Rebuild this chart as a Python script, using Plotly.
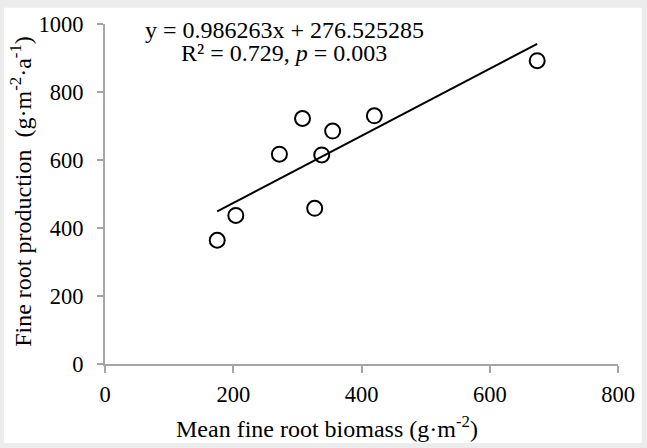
import plotly.graph_objects as go

# Data
biomass = [175, 204, 272, 308, 327, 338, 355, 420, 674]
production = [364, 437, 617, 722, 458, 615, 685, 730, 892]
slope = 0.986263
intercept = 276.525285
x_ticks = [0, 200, 400, 600, 800]
y_ticks = [0, 200, 400, 600, 800, 1000]

W, H = 647, 448
L, R, T, B = 105, 19.3, 21.3, 83.7
pw, ph = W - L - R, H - T - B

def px(x):
    return (x - L) / pw

def py(y):
    return (H - B - y) / ph

FONT = "Liberation Serif"
AXC = "#a6a6a6"

line_x = [min(biomass), max(biomass)]
line_y = [slope * v + intercept for v in line_x]

fig = go.Figure()
fig.add_trace(go.Scatter(x=line_x, y=line_y, mode="lines",
                         line=dict(color="black", width=2), showlegend=False))
fig.add_trace(go.Scatter(x=biomass, y=production, mode="markers",
                         marker=dict(symbol="circle-open", size=15, color="black",
                                     line=dict(width=2, color="black")),
                         showlegend=False))

fig.update_layout(
    width=W, height=H,
    margin=dict(l=L, r=R, t=T, b=B, pad=0),
    paper_bgcolor="#ececec",
    plot_bgcolor="white",
    font=dict(family=FONT, size=24, color="black"),
    xaxis=dict(range=[0, 800], tickvals=x_ticks, showgrid=False, zeroline=False,
               showline=True, linecolor=AXC, linewidth=2, ticks="outside",
               ticklen=7, tickwidth=2, tickcolor=AXC, fixedrange=True,
               ticklabelstandoff=2,
               tickfont=dict(family=FONT, size=22.5, color="black")),
    yaxis=dict(range=[0, 1000], tickvals=y_ticks, showgrid=False, zeroline=False,
               showline=True, linecolor=AXC, linewidth=2, ticks="outside",
               ticklen=6, tickwidth=2, tickcolor=AXC, fixedrange=True,
               ticklabelstandoff=9,
               tickfont=dict(family=FONT, size=22.5, color="black")),
    shapes=[dict(type="rect", xref="paper", yref="paper", layer="below",
                 x0=px(2), x1=px(W + 5), y0=py(444), y1=py(5),
                 fillcolor="white", line=dict(width=0))],
    annotations=[
        dict(text="y = 0.986263x + 276.525285", xref="paper", yref="paper",
             x=px(287.5), y=py(27), showarrow=False, xanchor="center", yanchor="middle",
             font=dict(family=FONT, size=24, color="black")),
        dict(text="R² = 0.729, <i>p</i> = 0.003", xref="paper", yref="paper",
             x=px(287.5), y=py(51), showarrow=False, xanchor="center", yanchor="middle",
             font=dict(family=FONT, size=24, color="black")),
        dict(text="Mean fine root biomass (g·m<sup>-2</sup>)", xref="paper", yref="paper",
             x=px(331), y=py(428), showarrow=False, xanchor="center", yanchor="middle",
             font=dict(family=FONT, size=24, color="black")),
        dict(text="Fine root production  (g·m<sup>-2</sup>·a<sup>-1</sup>)", xref="paper", yref="paper",
             x=px(20), y=py(190), showarrow=False, xanchor="center", yanchor="middle",
             textangle=-90, font=dict(family=FONT, size=24, color="black")),
    ],
)

fig.write_html("out.html")
